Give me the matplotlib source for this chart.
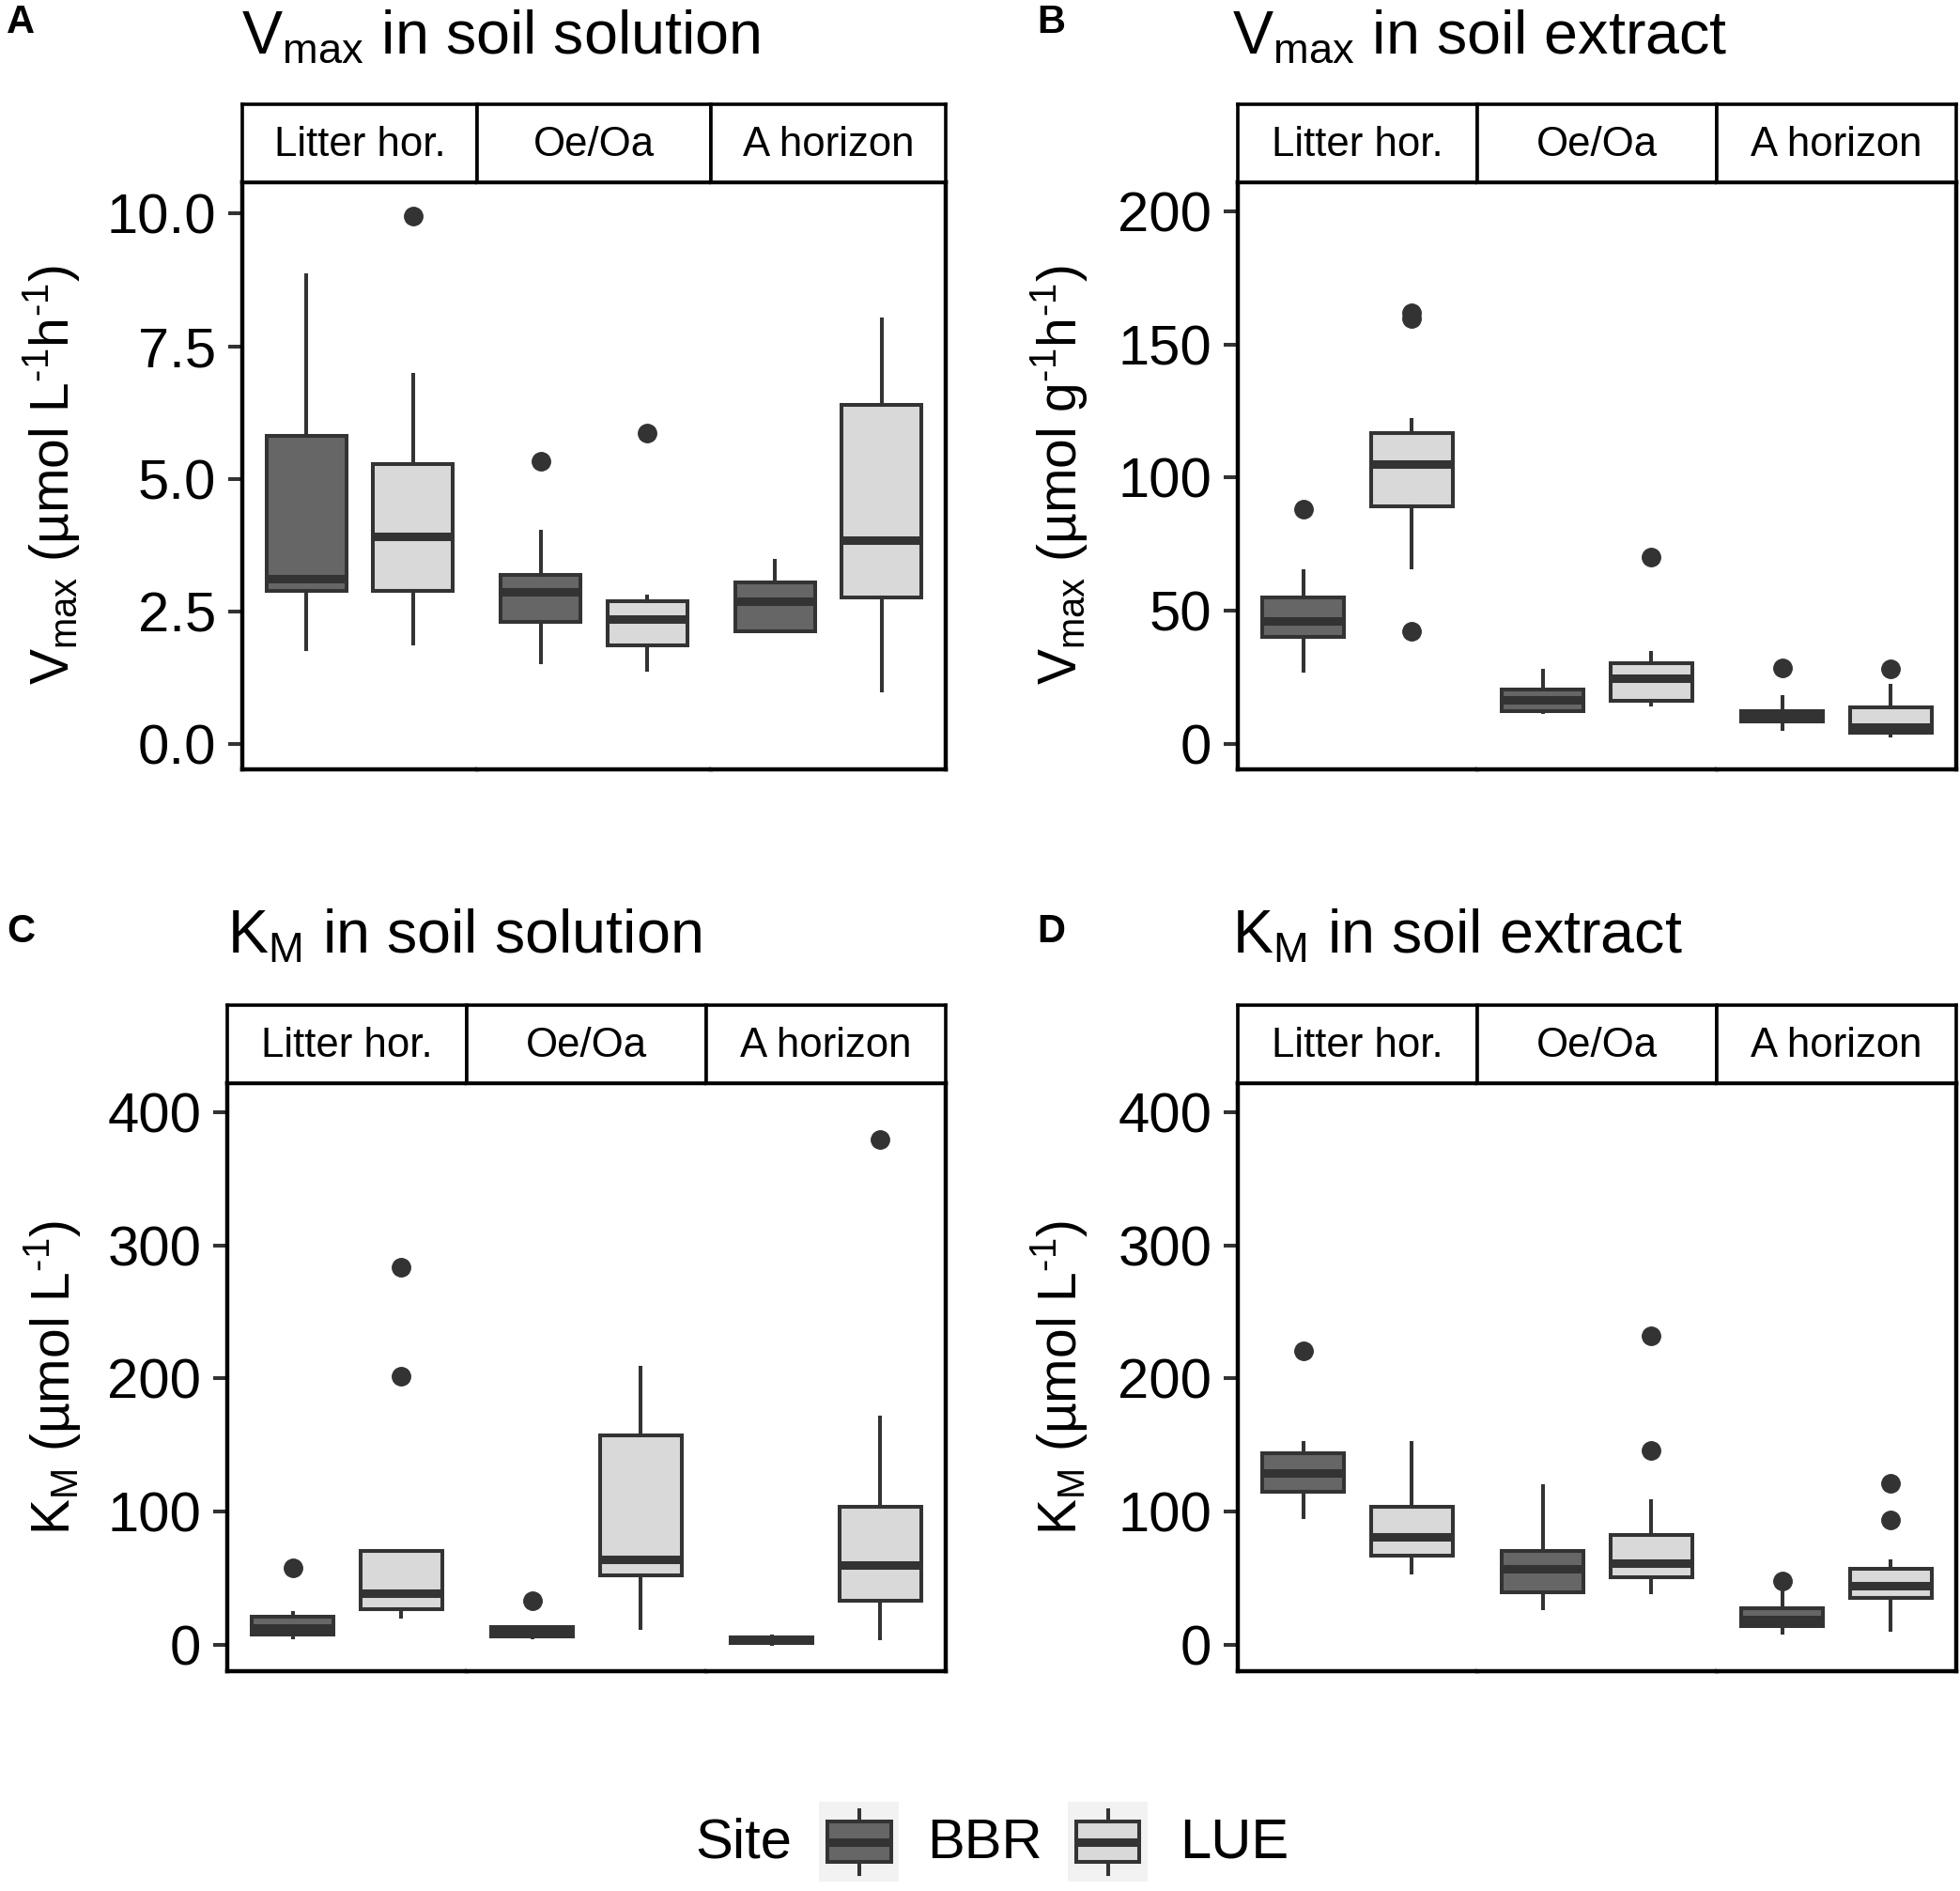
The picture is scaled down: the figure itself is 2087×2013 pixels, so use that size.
import matplotlib
matplotlib.use("Agg")
import matplotlib.pyplot as plt
from matplotlib.patches import Rectangle

plt.rcParams['font.family'] = ['Liberation Sans', 'DejaVu Sans']
plt.rcParams['mathtext.fontset'] = 'custom'
plt.rcParams['mathtext.rm'] = 'Liberation Sans'
plt.rcParams['mathtext.it'] = 'Liberation Sans:italic'
plt.rcParams['mathtext.bf'] = 'Liberation Sans:bold'

horizons = ["Litter hor.", "Oe/Oa", "A horizon"]
sites = ["BBR", "LUE"]

# boxes per horizon: [lower whisker, Q1, median, Q3, upper whisker]
vmax_sol_bbr = [[1.79, 2.89, 3.12, 5.81, 8.84], [1.54, 2.31, 2.87, 3.19, 4.01], [2.14, 2.14, 2.70, 3.05, 3.46]]
vmax_sol_lue = [[1.90, 2.89, 3.91, 5.28, 6.96], [1.41, 1.86, 2.36, 2.69, 2.79], [1.01, 2.77, 3.84, 6.39, 8.00]]
vmax_sol_bbr_out = [[], [5.33], []]
vmax_sol_lue_out = [[9.95], [5.86], []]

vmax_ext_bbr = [[27.5, 40.4, 46.3, 55.0, 64.8], [12.1, 12.5, 16.7, 20.5, 27.7], [5.7, 8.5, 11.0, 12.5, 17.6]]
vmax_ext_lue = [[66.5, 89.3, 105.0, 116.6, 121.7], [14.8, 16.3, 24.8, 30.5, 34.3], [3.4, 4.4, 6.6, 13.8, 22.0]]
vmax_ext_bbr_out = [[88.2], [], [28.6]]
vmax_ext_lue_out = [[42.3, 159.8, 162.0], [70.1], [28.4]]

km_sol_bbr = [[5.8, 7.8, 12.4, 21.0, 24.1], [5.8, 6.6, 10.1, 13.6, 13.6], [1.0, 1.6, 3.5, 5.4, 6.0]]
km_sol_lue = [[21.0, 26.8, 38.8, 70.7, 70.7], [12.4, 52.4, 64.1, 156.9, 208.2], [4.7, 33.0, 59.8, 103.3, 170.9]]
km_sol_bbr_out = [[57.9], [33.0], []]
km_sol_lue_out = [[201.6, 283.5], [], [379.4]]

km_ext_bbr = [[95.9, 114.6, 128.9, 143.7, 151.5], [27.2, 39.6, 57.1, 70.7, 118.8], [9.3, 14.4, 19.0, 27.2, 40.4]]
km_ext_lue = [[54.0, 66.8, 80.8, 103.7, 151.5], [39.6, 50.5, 61.0, 82.3, 108.0], [11.3, 35.0, 44.7, 57.1, 62.9]]
km_ext_bbr_out = [[221.0], [], [48.2]]
km_ext_lue_out = [[], [145.6, 231.8], [94.0, 121.2]]

vmax_sol_ticks = [0, 2.5, 5, 7.5, 10]
vmax_sol_ticklabels = ["0.0", "2.5", "5.0", "7.5", "10.0"]
vmax_ext_ticks = [0, 50, 100, 150, 200]
km_ticks = [0, 100, 200, 300, 400]

site_colors = {"BBR": "#666666", "LUE": "#D9D9D9"}
edge = "#333333"

W, H = 2087, 2013
LW = 2.9


def stat(five, out):
    return dict(whislo=five[0], q1=five[1], med=five[2], q3=five[3], whishi=five[4], fliers=out)


def draw_panel(fig, left, right, top, bottom, strip_top, bbr, lue, bbr_out, lue_out,
               ylim, ticks, ticklabels):
    fw = (right - left) / 3
    for i, hor in enumerate(horizons):
        x0 = left + i * fw
        ax = fig.add_axes([x0 / W, 1 - bottom / H, fw / W, (bottom - top) / H])
        stats = [stat(bbr[i], bbr_out[i]), stat(lue[i], lue_out[i])]
        res = ax.bxp(stats, positions=[1, 2], widths=0.75, patch_artist=True, showcaps=False,
                     boxprops=dict(edgecolor=edge, linewidth=LW),
                     whiskerprops=dict(color=edge, linewidth=LW),
                     medianprops=dict(color=edge, linewidth=6.5, solid_capstyle='butt'),
                     flierprops=dict(marker='o', markerfacecolor=edge, markeredgecolor=edge,
                                     markersize=14))
        for box, s in zip(res['boxes'], sites):
            box.set_facecolor(site_colors[s])
        ax.set_xlim(0.4, 2.6)
        ax.set_ylim(*ylim)
        ax.set_xticks([])
        for side in ['left', 'right', 'top', 'bottom']:
            ax.spines[side].set_linewidth(3.2)
            ax.spines[side].set_color('black')
        ax.spines['left'].set_visible(i == 0)
        ax.spines['right'].set_visible(i == 2)
        if i == 0:
            ax.set_yticks(ticks)
            ax.set_yticklabels(ticklabels)
            ax.tick_params(axis='y', length=11, width=2.9, color=edge, labelsize=43, pad=9,
                           labelcolor='black')
        else:
            ax.set_yticks([])

        # facet strip
        sx = fig.add_axes([x0 / W, 1 - top / H, fw / W, (top - strip_top) / H])
        sx.set_xticks([])
        sx.set_yticks([])
        for side in sx.spines.values():
            side.set_linewidth(2.6)
            side.set_color('black')
        sx.text(0.5, 0.48, hor, ha='center', va='center', fontsize=31.5, transform=sx.transAxes)


fig = plt.figure(figsize=(W / 100, H / 100), dpi=100)

# A
draw_panel(fig, 258, 1007, 194, 819, 111, vmax_sol_bbr, vmax_sol_lue, vmax_sol_bbr_out,
           vmax_sol_lue_out, (-0.47, 10.59), vmax_sol_ticks, vmax_sol_ticklabels)
# B
draw_panel(fig, 1318, 2083, 194, 819, 111, vmax_ext_bbr, vmax_ext_lue, vmax_ext_bbr_out,
           vmax_ext_lue_out, (-9.4, 210.8), vmax_ext_ticks, [str(t) for t in vmax_ext_ticks])
# C
draw_panel(fig, 242, 1007, 1153, 1779, 1070, km_sol_bbr, km_sol_lue, km_sol_bbr_out,
           km_sol_lue_out, (-19.8, 421.7), km_ticks, [str(t) for t in km_ticks])
# D
draw_panel(fig, 1318, 2083, 1153, 1779, 1070, km_ext_bbr, km_ext_lue, km_ext_bbr_out,
           km_ext_lue_out, (-19.8, 421.7), km_ticks, [str(t) for t in km_ticks])

# titles
title_kw = dict(fontsize=46.5, ha='left', va='baseline')
fig.text(257 / W, 1 - 57 / H, r"$\mathrm{V_{max}}$ in soil solution", **title_kw)
fig.text(1312 / W, 1 - 57 / H, r"$\mathrm{V_{max}}$ in soil extract", **title_kw)
fig.text(242 / W, 1 - 1015 / H, r"$\mathrm{K_{M}}$ in soil solution", **title_kw)
fig.text(1312 / W, 1 - 1015 / H, r"$\mathrm{K_{M}}$ in soil extract", **title_kw)

# panel letters
letter_kw = dict(fontsize=30, fontweight='bold', ha='left', va='center')
fig.text(7 / W, 1 - 24 / H, "A", **letter_kw)
fig.text(1104 / W, 1 - 24 / H, "B", **letter_kw)
fig.text(7 / W, 1 - 992 / H, "C", **letter_kw)
fig.text(1104 / W, 1 - 992 / H, "D", **letter_kw)

# y labels
ylab_kw = dict(fontsize=41, rotation=90, ha='center', va='center')
fig.text(55 / W, 1 - 506 / H, "$\\mathrm{V_{max}}$ (µmol L$^{\\mathrm{\u20101}}$h$^{\\mathrm{\u20101}}$)", **ylab_kw)
fig.text(1127 / W, 1 - 506 / H, "$\\mathrm{V_{max}}$ (µmol g$^{\\mathrm{\u20101}}$h$^{\\mathrm{\u20101}}$)", **ylab_kw)
fig.text(55 / W, 1 - 1466 / H, "$\\mathrm{K_{M}}$ (µmol L$^{\\mathrm{\u20101}}$)", **ylab_kw)
fig.text(1127 / W, 1 - 1466 / H, "$\\mathrm{K_{M}}$ (µmol L$^{\\mathrm{\u20101}}$)", **ylab_kw)

# legend
fig.text(740 / W, 1 - 1962 / H, "Site", fontsize=43, ha='left', va='center')
key_x = {"BBR": 872, "LUE": 1137}
label_x = {"BBR": 987, "LUE": 1256}
for s in sites:
    kx = fig.add_axes([key_x[s] / W, 1 - 2003 / H, 85 / W, 85 / H])
    kx.set_facecolor('#F2F2F2')
    kx.set_xlim(0, 1)
    kx.set_ylim(0, 1)
    kx.set_xticks([])
    kx.set_yticks([])
    for side in kx.spines.values():
        side.set_visible(False)
    kx.add_patch(Rectangle((0.1, 0.25), 0.8, 0.5, facecolor=site_colors[s], edgecolor=edge,
                           linewidth=LW))
    kx.plot([0.5, 0.5], [0.1, 0.25], color=edge, lw=LW)
    kx.plot([0.5, 0.5], [0.75, 0.9], color=edge, lw=LW)
    kx.plot([0.1, 0.9], [0.5, 0.5], color=edge, lw=6.5, solid_capstyle='butt')
    fig.text(label_x[s] / W, 1 - 1962 / H, s, fontsize=43, ha='left', va='center')

fig.savefig("out.png", dpi=100)
